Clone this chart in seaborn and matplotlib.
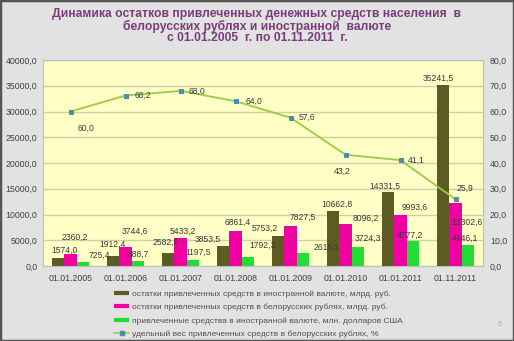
import numpy as np
import pandas as pd
import matplotlib
matplotlib.use("Agg")
import matplotlib.pyplot as plt
from matplotlib.lines import Line2D
import seaborn as sns

# ---------------- data ----------------
dates = ["01.01.2005", "01.01.2006", "01.01.2007", "01.01.2008",
         "01.01.2009", "01.01.2010", "01.01.2011", "01.11.2011"]
foreign_byr = [1574.0, 1912.4, 2582.6, 3853.5, 5753.2, 10662.8, 14331.5, 35241.5]
byr = [2360.2, 3744.6, 5433.2, 6861.4, 7827.5, 8096.2, 9993.6, 12302.6]
foreign_usd = [725.4, 888.7, 1197.5, 1792.3, 2615.1, 3724.3, 4777.2, 4146.1]
share_byr = [60.0, 66.2, 68.0, 64.0, 57.6, 43.2, 41.1, 25.9]

series_names = [
    "остатки привлеченных средств в иностранной валюте, млрд. руб.",
    "остатки привлеченных средств в белорусских рублях, млрд. руб.",
    "привлеченные средства в иностранной валюте, млн. долларов США",
]
line_name = "удельный вес привлеченных средств в белорусских рублях, %"
title = ("Динамика остатков привлеченных денежных средств населения  в\n"
         "белорусских рублях и иностранной  валюте\n"
         "с 01.01.2005  г. по 01.11.2011  г.")
left_ticks = [0, 5000, 10000, 15000, 20000, 25000, 30000, 35000, 40000]
right_ticks = [0, 10, 20, 30, 40, 50, 60, 70, 80]

# label offsets (pixels) for readability, (dx, dy)
off_olive = [(7, 8), (0, 12), (-2, 10), (-15, 7), (-13, 8), (4, 7), (-3, 6), (-5, 6)]
off_mag = [(4, 17), (9, 15), (2, 7), (2, 8), (12, 8), (20, 6), (14, 7), (12, -20)]
off_green = [(16, 7), (0, 7), (5, 8), (15, 11), (24, 5), (10, 9), (-3, 6), (-3, 6)]
off_line = [(16, -17), (17, 0), (16, 0), (19, 0), (16, 0), (-3, -17), (16, 0), (9, 11)]

colors = ["#5e5a24", "#f000a0", "#22dd33"]
line_color = "#99cc44"
marker_color = "#4a8fa8"
txt_color = "#3a3a3a"

df = pd.DataFrame({
    "date": np.repeat(dates, 3),
    "series": series_names * len(dates),
    "value": np.ravel(np.column_stack([foreign_byr, byr, foreign_usd])),
})

sns.set_style("white")
plt.rcParams["font.family"] = ["Liberation Sans", "DejaVu Sans"]

W, H = 514, 341
fig = plt.figure(figsize=(W / 100, H / 100), dpi=100)
fig.patch.set_facecolor("#e2e2e2")

ax = fig.add_axes([43 / W, (H - 266) / H, 440 / W, 206 / H])
ax.set_facecolor("#ffffc6")

sns.barplot(data=df, x="date", y="value", hue="series", hue_order=series_names,
            palette=colors, width=0.68, saturation=1, ax=ax, legend=False,
            linewidth=0, errorbar=None)
ax.set_ylim(0, 40000)
ax.set_xlim(-0.5, len(dates) - 0.5)
ax.set_yticks(left_ticks)
ax.set_yticklabels([f"{v:.1f}".replace(".", ",") for v in left_ticks])
ax.set_xlabel("")
ax.set_ylabel("")
ax.yaxis.grid(True, color="#cfcfa8", linewidth=1.0)
ax.set_axisbelow(True)
for s in ax.spines.values():
    s.set_color("#bdbdbd")
    s.set_linewidth(0.8)
ax.tick_params(axis="both", length=0, labelsize=6.3, colors="#404040", pad=4)
ax.tick_params(axis="x", pad=6)

ax2 = ax.twinx()
sns.lineplot(x=np.arange(len(dates)), y=share_byr, ax=ax2, color=line_color,
             linewidth=1.3, marker="s", markersize=3.2,
             markerfacecolor=marker_color, markeredgecolor=marker_color)
ax2.set_ylim(0, 80)
ax2.set_yticks(right_ticks)
ax2.set_yticklabels([f"{v:.1f}".replace(".", ",") for v in right_ticks])
ax2.tick_params(axis="y", length=0, labelsize=6.3, colors="#404040", pad=5)
for s in ax2.spines.values():
    s.set_visible(False)
ax2.grid(False)

# bar labels
bars = list(ax.patches)
groups = [foreign_byr, byr, foreign_usd]
offs = [off_olive, off_mag, off_green]
for k, vals in enumerate(groups):
    for i, v in enumerate(vals):
        p = bars[k * len(dates) + i]
        xc = p.get_x() + p.get_width() / 2
        dx, dy = offs[k][i]
        ax.annotate(f"{v:.1f}".replace(".", ","), (xc, v), xytext=(dx, dy),
                    textcoords="offset pixels", ha="center", va="center",
                    fontsize=6.2, color=txt_color)

for i, v in enumerate(share_byr):
    dx, dy = off_line[i]
    ax2.annotate(f"{v:.1f}".replace(".", ","), (i, v), xytext=(dx, dy),
                 textcoords="offset pixels", ha="center", va="center",
                 fontsize=6.2, color=txt_color)

fig.text(0.5, 1 - 26 / H, title, ha="center", va="center", fontsize=8.7,
         fontweight="bold", color="#7b3c7b", linespacing=0.97)

handles = [Line2D([0], [0], color=colors[0], lw=3, solid_capstyle="butt"),
           Line2D([0], [0], color=colors[1], lw=3, solid_capstyle="butt"),
           Line2D([0], [0], color=colors[2], lw=3, solid_capstyle="butt"),
           Line2D([0], [0], color=line_color, lw=1.2, marker="s", markersize=3,
                  markerfacecolor=marker_color, markeredgecolor=marker_color)]
leg = fig.legend(handles, series_names + [line_name], loc="upper left",
                 bbox_to_anchor=(114 / W, 1 - 290 / H), frameon=False,
                 fontsize=6.0, handlelength=1.8, handletextpad=0.3,
                 labelspacing=0.68, borderaxespad=0, borderpad=0)
for t in leg.get_texts():
    t.set_color("#505050")

fig.text(500 / W, 1 - 325 / H, "6", fontsize=5, color="#aaaaaa", ha="center", va="center")

# outer dark frame
fig.add_artist(plt.Rectangle((0, 0), 1, 1, transform=fig.transFigure, fill=False,
                             edgecolor="#555555", linewidth=2.5))

fig.savefig("out.png", dpi=100, facecolor=fig.get_facecolor())
